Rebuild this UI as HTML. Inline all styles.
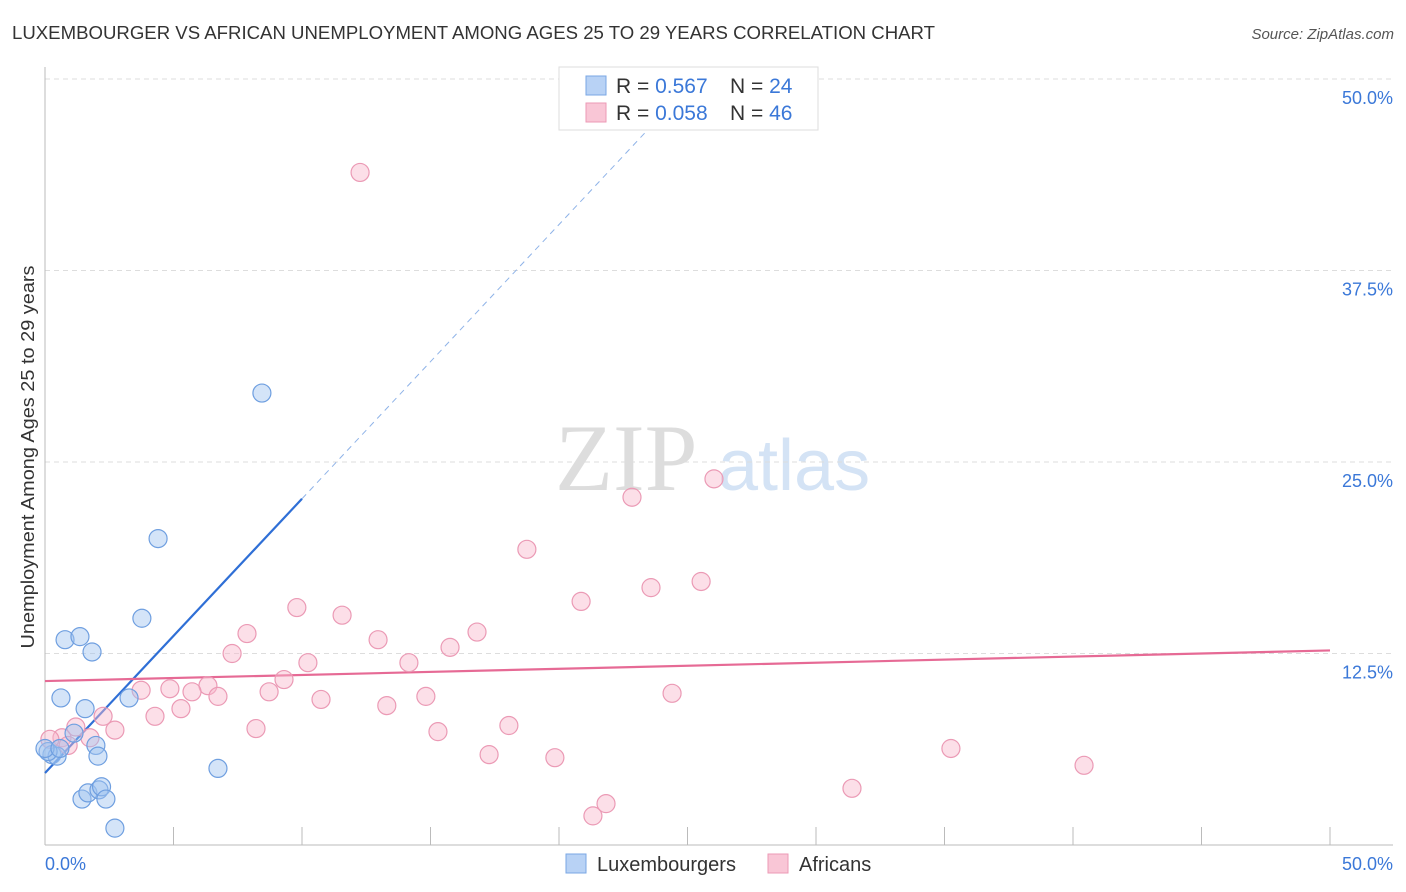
<!DOCTYPE html>
<html><head><meta charset="utf-8"><style>
body{margin:0;background:#fff;font-family:"Liberation Sans",sans-serif;}
svg{display:block}
</style></head><body>
<svg id="chart" width="1406" height="892">
<text x="12" y="39" font-size="18" textLength="923" lengthAdjust="spacingAndGlyphs" fill="#333">LUXEMBOURGER VS AFRICAN UNEMPLOYMENT AMONG AGES 25 TO 29 YEARS CORRELATION CHART</text>
<text x="1394" y="39" font-size="15" fill="#555" font-style="italic" text-anchor="end">Source: ZipAtlas.com</text>
<text x="0" y="0" transform="translate(34,457) rotate(-90)" font-size="18" textLength="383" lengthAdjust="spacingAndGlyphs" fill="#333" text-anchor="middle">Unemployment Among Ages 25 to 29 years</text>
<g><text x="555" y="490" font-family="Liberation Serif" font-size="95" fill="#ddd">ZIP</text><text x="718" y="490" font-size="72" fill="#d4e3f5">atlas</text></g>
<g id="grid"></g><g id="axes"></g><g id="trend"></g><g id="pts"></g>
<g>
<rect x="559" y="67" width="259" height="63" fill="#fff" stroke="#ddd"/>
<rect x="586" y="76" width="20" height="19" fill="#b8d2f5" stroke="#7aa7e4"/>
<rect x="586" y="103" width="20" height="19" fill="#f9c6d6" stroke="#ec9ab6"/>
<text x="616" y="93" font-size="21" fill="#333">R = <tspan fill="#3b78d8">0.567</tspan></text>
<text x="730" y="93" font-size="21" fill="#333">N = <tspan fill="#3b78d8">24</tspan></text>
<text x="616" y="120" font-size="21" fill="#333">R = <tspan fill="#3b78d8">0.058</tspan></text>
<text x="730" y="120" font-size="21" fill="#333">N = <tspan fill="#3b78d8">46</tspan></text>
</g>
<g>
<rect x="566" y="854" width="20" height="19" fill="#b8d2f5" stroke="#7aa7e4"/>
<text x="597" y="871" font-size="20" fill="#333">Luxembourgers</text>
<rect x="768" y="854" width="20" height="19" fill="#f9c6d6" stroke="#ec9ab6"/>
<text x="799" y="871" font-size="20" fill="#333">Africans</text>
</g>
</svg>
<script>
const yTicks=[12.5,25,37.5,50];
const yTickLabels=["12.5%","25.0%","37.5%","50.0%"];
const xTickLabels=["0.0%","50.0%"];
const luxX=[8.44,4.4,3.77,0.78,1.36,1.83,0.62,1.56,3.27,1.98,1.13,2.06,0.27,0.47,0.12,6.73,1.44,1.67,2.1,2.2,2.37,2.72,0,0.58];
const luxY=[29.5,20.0,14.8,13.4,13.6,12.6,9.6,8.9,9.6,6.5,7.3,5.8,5.9,5.8,6.1,5.0,3.0,3.4,3.6,3.8,3.0,1.1,6.3,6.3];
const afrX=[12.26,26.03,22.84,18.75,25.53,23.58,20.86,9.8,11.56,16.81,7.86,12.96,15.76,7.28,10.23,14.16,9.3,6.34,3.74,4.86,5.72,6.73,8.72,10.74,14.82,24.4,13.3,5.29,4.28,2.26,8.21,2.72,1.2,18.05,15.29,0.66,1.75,0.19,35.25,17.28,19.84,40.43,31.4,21.83,21.32,0.9];
const afrY=[43.9,23.9,22.7,19.3,17.2,16.8,15.9,15.5,15.0,13.9,13.8,13.4,12.9,12.5,11.9,11.9,10.8,10.4,10.1,10.2,10.0,9.7,10.0,9.5,9.7,9.9,9.1,8.9,8.4,8.4,7.6,7.5,7.7,7.8,7.4,7.0,7.0,6.9,6.3,5.9,5.7,5.2,3.7,2.7,1.9,6.5];
const luxTrend=[4.7,1.79]; // intercept, slope
const afrTrend=[10.7,0.04];
const NS="http://www.w3.org/2000/svg";
const sx=v=>45+v*25.7, sy=v=>845-v*15.32;
function mk(p,t,a){const e=document.createElementNS(NS,t);for(const k in a)e.setAttribute(k,a[k]);document.getElementById(p).appendChild(e);return e;}
yTicks.forEach((v,i)=>{
 const l=mk('grid','line',{x1:45,x2:1393,y1:sy(v),y2:sy(v),stroke:'#ddd','stroke-dasharray':'5,4'});
 
 
 const t=mk('grid','text',{x:1393,y:sy(v)+25,'font-size':18,fill:'#3b78d8','text-anchor':'end'});t.textContent=yTickLabels[i];
 
 
});
mk('axes','line',{x1:45,x2:45,y1:67,y2:845,stroke:'#bbb'});
mk('axes','line',{x1:45,x2:1393,y1:845,y2:845,stroke:'#bbb'});
for(let i=0;i<=10;i++){const t=mk('axes','line',{x1:sx(i*5),x2:sx(i*5),y1:827,y2:845,stroke:'#bbb'});
 
 }
[[0,45,'start'],[50,1393,'end']].forEach((d,i)=>{const t=mk('axes','text',{x:d[1],y:870,'font-size':18,fill:'#3b78d8','text-anchor':d[2]});t.textContent=xTickLabels[i];
 
 });
const bl=mk('trend','line',{x1:sx(0),y1:sy(luxTrend[0]),x2:sx(10),y2:sy(luxTrend[0]+10*luxTrend[1]),stroke:'#2f6fd6','stroke-width':2.2});


const bd=mk('trend','line',{x1:sx(10),y1:sy(luxTrend[0]+10*luxTrend[1]),x2:sx(23.7),y2:sy(luxTrend[0]+23.7*luxTrend[1]),stroke:'#8fb3e8','stroke-width':1,'stroke-dasharray':'6,5'});


const pl=mk('trend','line',{x1:sx(0),y1:sy(afrTrend[0]),x2:sx(50),y2:sy(afrTrend[0]+50*afrTrend[1]),stroke:'#e66a95','stroke-width':2.2});


afrX.forEach((x,i)=>{const c=mk('pts','circle',{cx:sx(x),cy:sy(afrY[i]),r:9,fill:'rgba(248,185,205,0.45)',stroke:'#eb9ab5','stroke-width':1.2});
 
 });
luxX.forEach((x,i)=>{const c=mk('pts','circle',{cx:sx(x),cy:sy(luxY[i]),r:9,fill:'rgba(160,196,240,0.45)',stroke:'#6f9fe0','stroke-width':1.2});
 
 });
</script>
</body></html>
